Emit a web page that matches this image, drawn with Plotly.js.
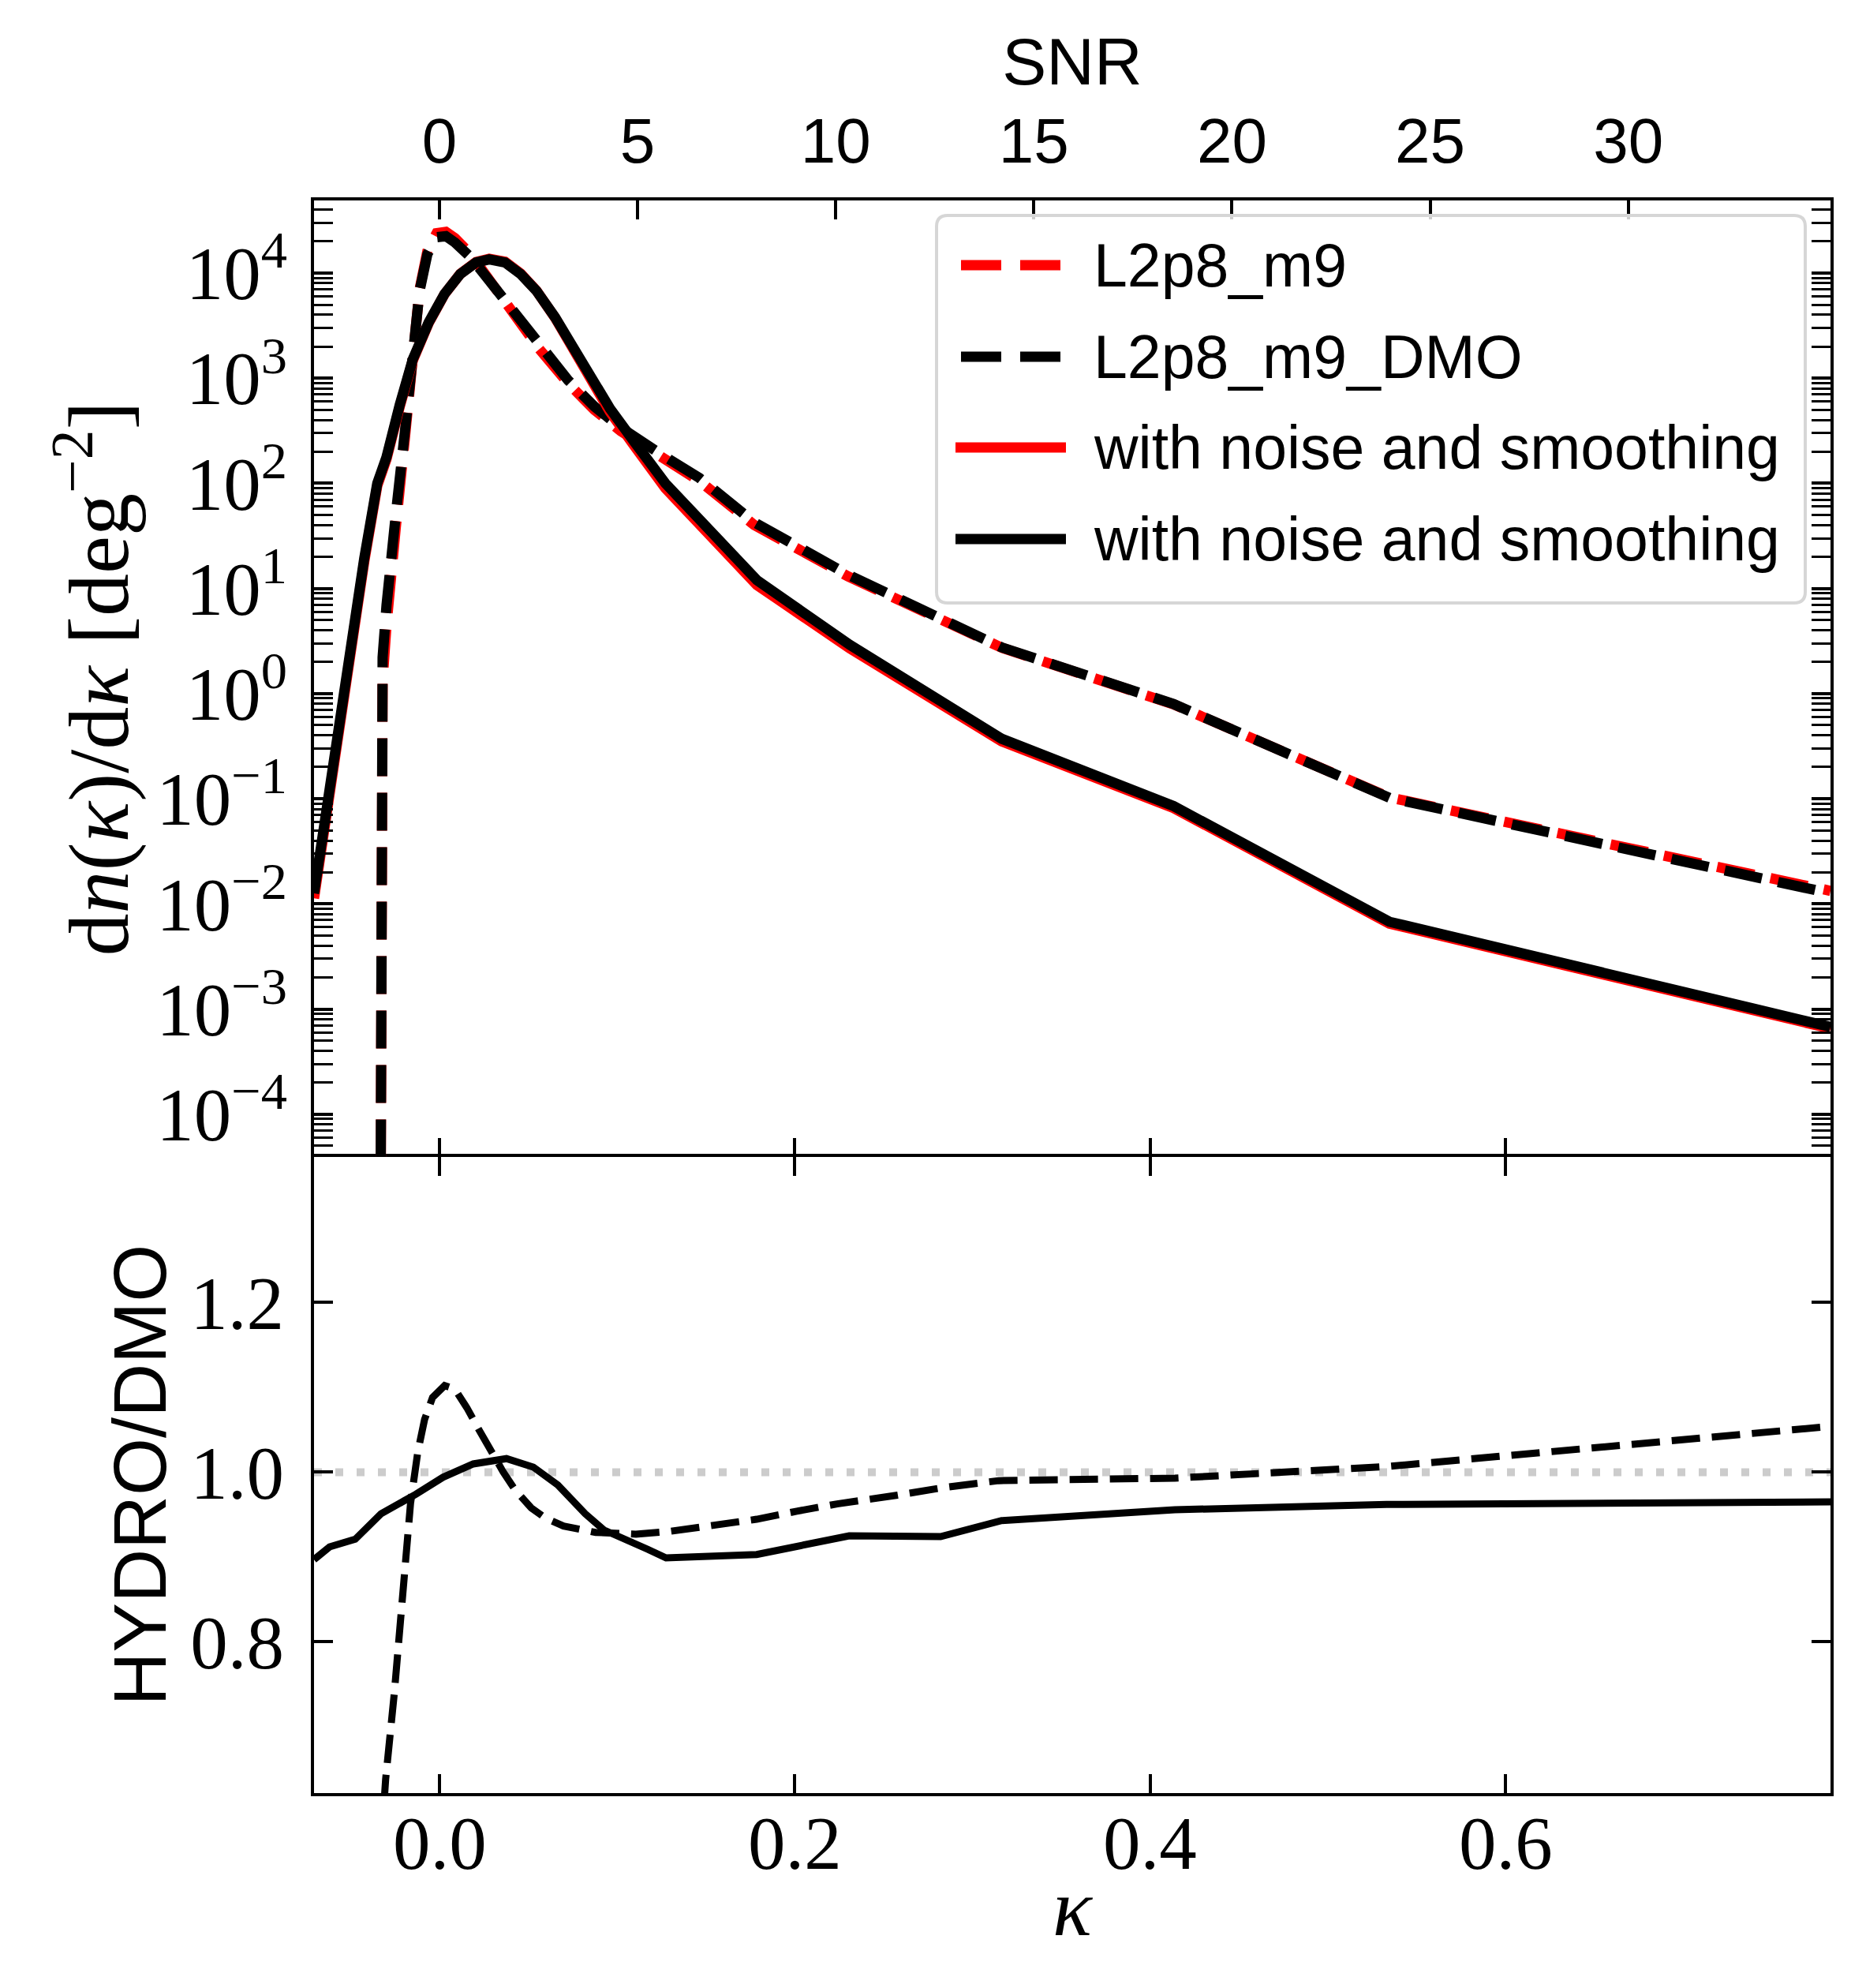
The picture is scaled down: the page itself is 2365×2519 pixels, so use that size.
<!DOCTYPE html>
<html>
<head>
<meta charset="utf-8">
<script src="https://cdn.plot.ly/plotly-3.0.1.min.js"></script>
<style>html,body{margin:0;padding:0;background:#fff;}</style>
</head>
<body>
<div id="plot" style="width:2365px;height:2519px;"></div>
<script>
// ---------- data ----------
// no-noise convergence PDFs (dashed)
const kappaNoNoise = [-0.0336, -0.0334, -0.032, -0.0298, -0.0268, -0.0246, -0.0194, -0.015, -0.0112, -0.0068, -0.0016, 0.0036, 0.0087, 0.0176, 0.028, 0.0413, 0.0561, 0.0724, 0.0872, 0.102, 0.1242, 0.1464, 0.177, 0.23, 0.3164, 0.4132, 0.5346, 0.7828];
const pdfHydro = [1e-7, 0.257, 1.33, 4.50, 20.9, 37.8, 278, 1866, 7000, 16180, 23930, 24660, 21430, 15100, 8750, 4198, 1897, 893, 499, 314, 177, 105, 40.3, 13.0, 2.73, 0.789, 0.103, 0.0133];
const pdfDMO   = [1e-7, 0.468, 2.21, 6.92, 29.5, 50.1, 316, 1905, 6761, 15140, 21880, 22390, 19500, 14130, 8511, 4266, 1995, 955, 537, 339, 191, 112, 42.7, 13.5, 2.75, 0.794, 0.102, 0.0126];

// with noise and smoothing (solid)
const kappaNoise = [-0.0706, -0.0586, -0.049, -0.0423, -0.035, -0.0298, -0.0223, -0.015, -0.0061, 0.0028, 0.0117, 0.0206, 0.028, 0.0369, 0.0457, 0.0546, 0.065, 0.0754, 0.0857, 0.096, 0.1094, 0.1271, 0.1786, 0.2309, 0.3164, 0.4132, 0.5346, 0.7828];
const pdfHydroNoise = [0.0113, 0.282, 3.58, 18.2, 94.8, 170, 542, 1473, 3334, 6278, 9811, 12730, 13680, 12790, 9879, 6788, 3764, 1939, 946, 477, 230, 89.9, 10.8, 2.69, 0.351, 0.0814, 0.0065, 6.52e-4];
const pdfDMONoise   = [0.0126, 0.309, 3.89, 19.5, 100, 178, 562, 1514, 3388, 6310, 9772, 12590, 13490, 12590, 9772, 6761, 3802, 1995, 1000, 513, 251, 100, 12.0, 2.91, 0.372, 0.0851, 0.00676, 6.76e-4];

// HYDRO/DMO ratios
const kappaRatioNoNoise = [-0.0312, -0.0303, -0.0254, -0.022, -0.019, -0.0163, -0.0122, -0.0084, -0.0039, 0.0029, 0.0086, 0.0154, 0.0222, 0.029, 0.0358, 0.0426, 0.0516, 0.0596, 0.0698, 0.0879, 0.1105, 0.1287, 0.1558, 0.1785, 0.2011, 0.2238, 0.2578, 0.2827, 0.3146, 0.4138, 0.533, 0.7828];
const ratioNoNoise = [0.61, 0.638, 0.740, 0.816, 0.891, 0.963, 1.024, 1.062, 1.088, 1.102, 1.098, 1.076, 1.050, 1.024, 1.0005, 0.979, 0.958, 0.946, 0.9365, 0.929, 0.927, 0.930, 0.938, 0.9445, 0.954, 0.9626, 0.973, 0.9815, 0.990, 0.993, 1.0066, 1.054];
const kappaRatioNoise = [-0.0706, -0.0618, -0.0474, -0.0329, -0.0133, 0.002, 0.019, 0.0377, 0.0528, 0.0666, 0.082, 0.0924, 0.1173, 0.1275, 0.1785, 0.2306, 0.282, 0.3164, 0.4138, 0.533, 0.7828];
const ratioNoise = [0.897, 0.912, 0.921, 0.951, 0.974, 0.994, 1.0097, 1.016, 1.006, 0.985, 0.951, 0.932, 0.909, 0.899, 0.903, 0.925, 0.924, 0.943, 0.9557, 0.962, 0.965];

// tick labels
const logTickVals = [1e-4, 1e-3, 1e-2, 1e-1, 1e0, 1e1, 1e2, 1e3, 1e4];
const logTickText = ['10<sup>−4</sup>','10<sup>−3</sup>','10<sup>−2</sup>','10<sup>−1</sup>','10<sup>0</sup>','10<sup>1</sup>','10<sup>2</sup>','10<sup>3</sup>','10<sup>4</sup>'];
const kappaTickVals = [0, 0.2, 0.4, 0.6];
const kappaTickText = ['0.0', '0.2', '0.4', '0.6'];
const ratioTickVals = [0.8, 1.0, 1.2];
const ratioTickText = ['0.8', '1.0', '1.2'];
const snrTickVals = [0, 5, 10, 15, 20, 25, 30];
const legendLabels = ['L2p8_m9', 'L2p8_m9_DMO', 'with noise and smoothing', 'with noise and smoothing'];

// ---------- styling ----------
const SERIF = 'Liberation Serif, Times New Roman, serif';
const SANS = 'Liberation Sans, Arial, sans-serif';
const KMIN = -0.0706, KMAX = 0.7828, SNR_UNIT = 0.0223;
const UPPER_W = 13, LOWER_W = 9;
const DASH_UP = '48px,21px', DASH_LOW = '36px,15px';

const traces = [
  {x: kappaNoNoise, y: pdfHydro, xaxis: 'x2', yaxis: 'y', mode: 'lines', name: legendLabels[0],
   line: {color: '#ff0000', width: UPPER_W, dash: DASH_UP}},
  {x: kappaNoNoise, y: pdfDMO, xaxis: 'x2', yaxis: 'y', mode: 'lines', name: legendLabels[1],
   line: {color: '#000000', width: UPPER_W, dash: DASH_UP}},
  {x: kappaNoise, y: pdfHydroNoise, xaxis: 'x2', yaxis: 'y', mode: 'lines', name: legendLabels[2],
   line: {color: '#ff0000', width: UPPER_W}},
  {x: kappaNoise, y: pdfDMONoise, xaxis: 'x2', yaxis: 'y', mode: 'lines', name: legendLabels[3],
   line: {color: '#000000', width: UPPER_W}},
  {x: kappaRatioNoNoise, y: ratioNoNoise, xaxis: 'x', yaxis: 'y2', mode: 'lines', showlegend: false,
   line: {color: '#000000', width: LOWER_W, dash: DASH_LOW}},
  {x: kappaRatioNoise, y: ratioNoise, xaxis: 'x', yaxis: 'y2', mode: 'lines', showlegend: false,
   line: {color: '#000000', width: LOWER_W}},
  // invisible carrier so the secondary SNR axis (top) gets drawn
  {x: [KMIN / SNR_UNIT, KMAX / SNR_UNIT], y: [1, 1], xaxis: 'x3', yaxis: 'y', mode: 'lines',
   showlegend: false, hoverinfo: 'skip', opacity: 0, line: {width: 0, color: 'rgba(0,0,0,0)'}}
];

const axisCommon = {
  showline: true, linecolor: '#000', linewidth: 4,
  ticks: 'inside', ticklen: 24, tickwidth: 4, tickcolor: '#000',
  showgrid: false, zeroline: false
};

// legend geometry in paper coordinates
const PX = X => (X - 398) / 1922;
const PY = Y => (2272 - Y) / 2018;
const lx0 = PX(1187), lx1 = PX(2288), ly0 = PY(764), ly1 = PY(273);
const rx = 14 / 1922, ry = 14 / 2018;
const boxPath = `M ${lx0+rx},${ly1} L ${lx1-rx},${ly1} Q ${lx1},${ly1} ${lx1},${ly1-ry} L ${lx1},${ly0+ry} Q ${lx1},${ly0} ${lx1-rx},${ly0} L ${lx0+rx},${ly0} Q ${lx0},${ly0} ${lx0},${ly0+ry} L ${lx0},${ly1-ry} Q ${lx0},${ly1} ${lx0+rx},${ly1} Z`;
const rowY = [336, 452, 567, 683].map(PY);
const legendStyles = [
  {color: '#ff0000', dash: '51px,24px', x0: 1218, x1: 1344},
  {color: '#000000', dash: '51px,24px', x0: 1218, x1: 1344},
  {color: '#ff0000', dash: 'solid', x0: 1211, x1: 1351},
  {color: '#000000', dash: 'solid', x0: 1211, x1: 1351}
];

const shapes = [
  {type: 'line', xref: 'x domain', yref: 'y2', x0: 0, x1: 1, y0: 1, y1: 1, layer: 'below',
   line: {color: '#cccccc', width: 10, dash: '10px,17px'}},
  {type: 'path', xref: 'paper', yref: 'paper', path: boxPath, layer: 'above',
   fillcolor: 'rgba(255,255,255,0.8)', line: {color: '#d6d6d6', width: 4}}
];
legendStyles.forEach((s, i) => {
  shapes.push({type: 'line', xref: 'paper', yref: 'paper', x0: PX(s.x0), x1: PX(s.x1), y0: rowY[i], y1: rowY[i],
    layer: 'above', line: {color: s.color, width: 13, dash: s.dash}});
});
const annotations = legendLabels.map((t, i) => ({
  text: t, xref: 'paper', yref: 'paper', x: PX(1384), y: rowY[i], xanchor: 'left', yanchor: 'middle',
  showarrow: false, font: {family: SANS, size: 77, color: '#000'}
}));
// kappa tick labels of the bottom axis (placed close to the axis, as in the reference)
kappaTickVals.forEach((v, i) => {
  annotations.push({text: kappaTickText[i], xref: 'x', yref: 'paper', x: v, y: PY(2336),
    xanchor: 'center', yanchor: 'middle', showarrow: false,
    font: {family: SERIF, size: 95, color: '#000'}});
});

const layout = {
  width: 2365, height: 2519,
  margin: {l: 398, r: 45, t: 254, b: 247, pad: 0},
  paper_bgcolor: '#fff', plot_bgcolor: '#fff',
  showlegend: false,
  xaxis: Object.assign({}, axisCommon, {
    anchor: 'y2', domain: [0, 1], range: [KMIN, KMAX],
    tickmode: 'array', tickvals: kappaTickVals, ticktext: kappaTickText, mirror: 'ticks',
    showticklabels: false,
    title: {text: '<i>κ</i>', font: {family: SERIF, size: 104, color: '#000'}, standoff: 105}
  }),
  xaxis2: Object.assign({}, axisCommon, {
    anchor: 'y', matches: 'x', range: [KMIN, KMAX], showline: false,
    tickmode: 'array', tickvals: kappaTickVals, showticklabels: false
  }),
  xaxis3: Object.assign({}, axisCommon, {
    anchor: 'y', overlaying: 'x2', side: 'top', range: [KMIN / SNR_UNIT, KMAX / SNR_UNIT],
    tickmode: 'array', tickvals: snrTickVals,
    tickfont: {family: SANS, size: 80, color: '#000'}, ticklabelstandoff: 12,
    title: {text: 'SNR', font: {family: SANS, size: 84, color: '#000'}, standoff: 0}
  }),
  yaxis: Object.assign({}, axisCommon, {
    anchor: 'x2', domain: [0.3994, 1], type: 'log', range: [-4.407, 4.69],
    tickmode: 'array', tickvals: logTickVals, ticktext: logTickText, mirror: 'allticks',
    tickfont: {family: SERIF, size: 95, color: '#000'}, ticklabelstandoff: 11,
    minor: {tickmode: 'linear', dtick: 'D1', ticks: 'inside', ticklen: 15, tickwidth: 3, tickcolor: '#000', showgrid: false},
    title: {text: 'd<i>n</i>(<i>κ</i>)/d<i>κ</i> [deg<sup>−2</sup>]', font: {family: SERIF, size: 108, color: '#000'}, standoff: 0}
  }),
  yaxis2: Object.assign({}, axisCommon, {
    anchor: 'x', domain: [0, 0.3994], range: [0.6218, 1.3715],
    tickmode: 'array', tickvals: ratioTickVals, ticktext: ratioTickText, mirror: 'ticks',
    tickfont: {family: SERIF, size: 95, color: '#000'}, ticklabelstandoff: 15,
    title: {text: 'HYDRO/DMO', font: {family: SANS, size: 94, color: '#000'}, standoff: 0}
  }),
  shapes: shapes,
  annotations: annotations
};

Plotly.newPlot('plot', traces, layout, {displayModeBar: false, staticPlot: true});
</script>
</body>
</html>
